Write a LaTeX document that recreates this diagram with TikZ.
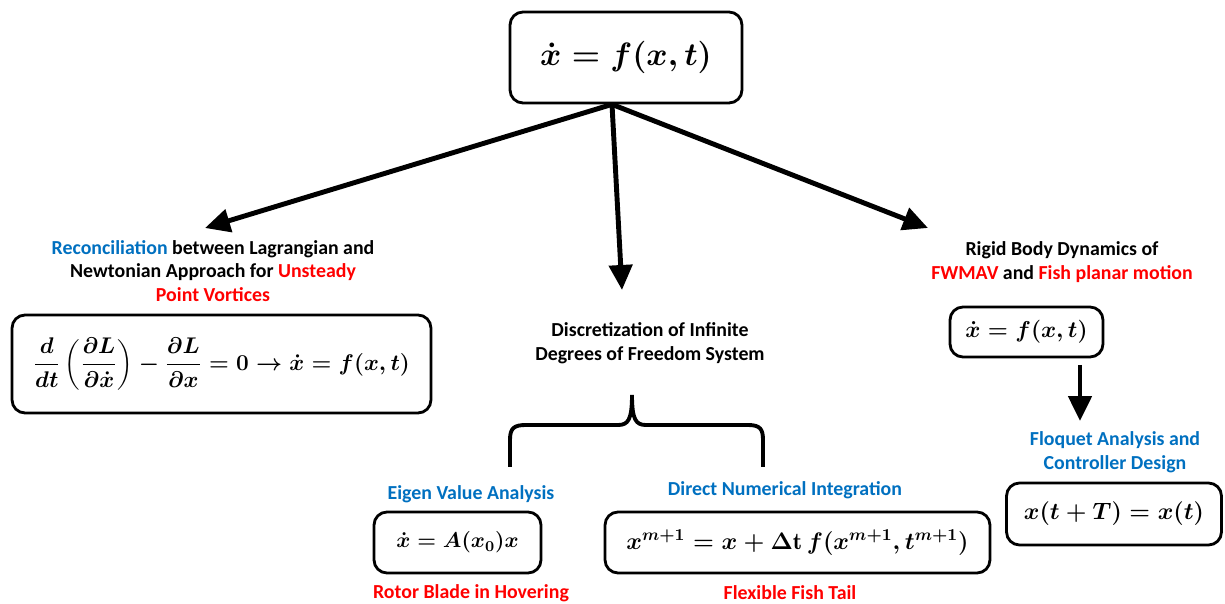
\RequirePackage{fix-cm}
\documentclass[tikz,border=0pt]{standalone}
\usepackage{fontspec}
\usepackage{amsmath}
\newfontfamily\lblfont{Carlito}
\usetikzlibrary{arrows.meta, calc, positioning}
\definecolor{dgBlue}{HTML}{0070C0}
\definecolor{dgRed}{HTML}{FF0000}
\tikzset{
  % boxed equations and bold labels, one pixel of the sketch = 0.02cm
  eqbox/.style    = {draw, rounded corners=0.26cm, line width=1.6pt, inner sep=0pt},
  lbl/.style      = {font=\lblfont\bfseries\fontsize{11.3}{13.6}\selectfont, align=center},
  bigarrow/.style = {-{Triangle[length=0.5cm, width=0.46cm]}, line width=2.8pt},
}
\newcommand{\eqsize}[1]{\fontsize{#1}{#1}\selectfont\boldmath}

\begin{document}
\boldmath
\begin{tikzpicture}[x=0.02cm, y=-0.02cm,
    blue/.style={text=dgBlue}, red/.style={text=dgRed}]
  \useasboundingbox (0,0) rectangle (1225,604);
  % governing equation at the top
  \node[eqbox, minimum width=4.64cm, minimum height=1.82cm, font=\eqsize{18.4}]
    (top) at (626,57.5) {$\dot{x} = f(x,t)$};
  \coordinate (src) at ($(top.south)+(-14,0)$);
  \coordinate (lagTip) at (205,228);
  \coordinate (discTip) at (622,290);
  \coordinate (rigidTip) at (928,228);
  \draw[bigarrow] (src) -- (lagTip);
  \draw[bigarrow] (src) -- (discTip);
  \draw[bigarrow] (src) -- (rigidTip);
  % left branch
  \node[lbl] (lag) at (213,271) {\textcolor{dgBlue}{Reconciliation} between Lagrangian and\\
    Newtonian Approach for \textcolor{dgRed}{Unsteady}\\ \textcolor{dgRed}{Point Vortices}};
  \node[eqbox, minimum width=8.38cm, minimum height=1.96cm, font=\eqsize{12.9}]
    (lagEq) at (221.5,364)
    {$\dfrac{d}{dt}\left(\dfrac{\partial L}{\partial \dot{x}}\right) - \dfrac{\partial L}{\partial x} = 0 \rightarrow \dot{x} = f(x,t)$};
  % middle branch
  \node[lbl] (disc) at (650,343) {Discretization of Infinite\\ Degrees of Freedom System};
  \draw[line width=2.2pt] (510,467) -- (510,440) .. controls (510,428) and (514,425) .. (526,425)
    -- (618,425) .. controls (628,425) and (632,420) .. (632,395)
    .. controls (632,420) and (636,425) .. (646,425) -- (748,425)
    .. controls (760,425) and (763,429) .. (763,440) -- (763,467);
  \node[lbl, blue] (eig) at (471,494) {Eigen Value Analysis};
  \node[eqbox, minimum width=3.34cm, minimum height=1.22cm, font=\eqsize{12.2}]
    (eigEq) at (457.5,542.5) {$\dot{x} = A(x_0)x$};
  \node[lbl, red] (rotor) at (471,593) {Rotor Blade in Hovering};
  \node[lbl, blue] (dni) at (785,490) {Direct Numerical Integration};
  \node[eqbox, minimum width=7.7cm, minimum height=1.22cm, font=\eqsize{13.6}]
    (dniEq) at (797.5,542.5) {$x^{m+1} = x + \Delta\mathrm{t}\, f(x^{m+1}, t^{m+1})$};
  \node[lbl, red] (fish) at (790,593) {Flexible Fish Tail};
  % right branch
  \node[lbl] (rigid) at (1062,262) {Rigid Body Dynamics of\\
    \textcolor{dgRed}{FWMAV} and \textcolor{dgRed}{Fish planar motion}};
  \node[eqbox, minimum width=3.06cm, minimum height=1.0cm, font=\eqsize{13.1}]
    (rigidEq) at (1026.5,332) {$\dot{x} = f(x,t)$};
  \coordinate (floqSrc) at (1080,365);
  \coordinate (floqTip) at (1080,421);
  \draw[bigarrow] (floqSrc) -- (floqTip);
  \node[lbl, blue] (floq) at (1115,452) {Floquet Analysis and\\ Controller Design};
  \node[eqbox, minimum width=4.3cm, minimum height=1.24cm, font=\eqsize{13.5}]
    (floqEq) at (1114,514) {$x(t+T) = x(t)$};
\end{tikzpicture}
\end{document}
